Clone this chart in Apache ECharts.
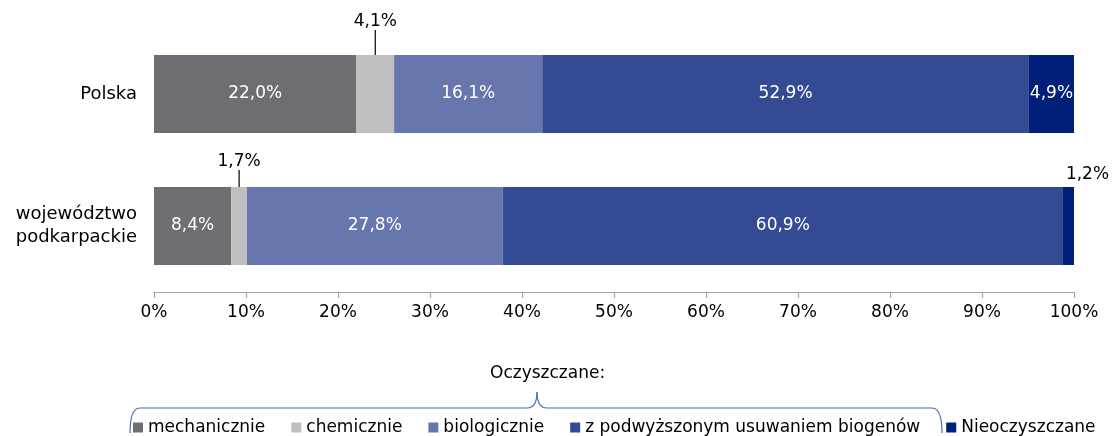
<!DOCTYPE html>
<html>
<head>
<meta charset="utf-8">
<script src="https://cdn.jsdelivr.net/npm/echarts@6/dist/echarts.min.js"></script>
<style>
  html, body { margin: 0; padding: 0; background: #fff; }
  #main { width: 1112px; height: 436px; }
</style>
</head>
<body>
<div id="main"></div>
<script>
// kategorie (od góry)
const categories = ['Polska', 'województwo\npodkarpackie'];
// udział ścieków wg sposobu oczyszczania, %
const mechanicznie = [22.0, 8.4];
const chemicznie = [4.1, 1.7];
const biologicznie = [16.1, 27.8];
const zPodwyzszonym = [52.9, 60.9];
const nieoczyszczane = [4.9, 1.2];
const seriesNames = ['mechanicznie', 'chemicznie', 'biologicznie', 'z podwyższonym usuwaniem biogenów', 'Nieoczyszczane'];
const colors = ['#6d6e71', '#bfbfbf', '#6777ad', '#344b93', '#001f78'];

const FONT = 'DejaVu Sans';
const fmt = v => v.toFixed(1).replace('.', ',') + '%';

const chart = echarts.init(document.getElementById('main'));

function makeSeries(name, data, color) {
  return {
    name: name,
    type: 'bar',
    stack: 'total',
    barWidth: 78,
    data: data,
    itemStyle: { color: color },
    label: {
      show: true,
      position: 'inside',
      color: '#fff',
      fontFamily: FONT,
      fontSize: 17,
      formatter: p => fmt(p.value)
    },
    emphasis: { disabled: true }
  };
}

const series = [
  makeSeries(seriesNames[0], mechanicznie, colors[0]),
  makeSeries(seriesNames[1], chemicznie, colors[1]),
  makeSeries(seriesNames[2], biologicznie, colors[2]),
  makeSeries(seriesNames[3], zPodwyzszonym, colors[3]),
  makeSeries(seriesNames[4], nieoczyszczane, colors[4])
];

// chemiczne – etykiety nad słupkiem z linią odniesienia
series[1].label = {
  show: true,
  position: 'top',
  distance: 0,
  color: '#000',
  fontFamily: FONT,
  fontSize: 17,
  formatter: p => fmt(p.value)
};
series[1].labelLayout = p => (p.dataIndex === 0 ? { dy: -25 } : { dy: -17 });
series[1].labelLine = { show: true, lineStyle: { color: '#000', width: 1.2 } };

// nieoczyszczane – mała wartość dla województwa poza słupkiem
series[4].data = nieoczyszczane.map((v, i) => i === 1 ? {
  value: v,
  label: { position: 'top', color: '#000', distance: 4 }
} : v);
series[4].labelLayout = p => (p.dataIndex === 1 ? { dx: 19 } : {});

const braceStyle = { fill: 'none', stroke: '#4a6fb0', lineWidth: 1.2 };

chart.setOption({
  animation: false,
  textStyle: { fontFamily: FONT },
  grid: { left: 154, right: 38, top: 28, height: 264 },
  xAxis: {
    type: 'value',
    min: 0,
    max: 100,
    interval: 10,
    axisLine: { show: true, lineStyle: { color: '#a6a6a6', width: 1.2 } },
    axisTick: { show: true, length: 6, lineStyle: { color: '#a6a6a6', width: 1.2 } },
    splitLine: { show: false },
    axisLabel: {
      color: '#000',
      fontFamily: FONT,
      fontSize: 17,
      margin: 12,
      formatter: v => v + '%'
    }
  },
  yAxis: {
    type: 'category',
    inverse: true,
    data: categories,
    axisLine: { show: false },
    axisTick: { show: false },
    axisLabel: {
      color: '#000',
      fontFamily: FONT,
      fontSize: 18,
      lineHeight: 23,
      margin: 17,
      align: 'right'
    }
  },
  legend: {
    left: 128,
    top: 414,
    padding: [5, 0, 5, 5],
    itemWidth: 10,
    itemHeight: 10,
    itemGap: 26,
    icon: 'rect',
    selectedMode: false,
    textStyle: { color: '#000', fontFamily: FONT, fontSize: 17 },
    data: seriesNames
  },
  graphic: [
    {
      type: 'text',
      left: 490,
      top: 365,
      style: { text: 'Oczyszczane:', fill: '#000', font: '17px "DejaVu Sans"' }
    },
    { type: 'bezierCurve', shape: { x1: 130, y1: 433, cpx1: 130, cpy1: 408, x2: 140, y2: 408 }, style: braceStyle },
    { type: 'line', shape: { x1: 140, y1: 408, x2: 527, y2: 408 }, style: braceStyle },
    { type: 'bezierCurve', shape: { x1: 527, y1: 408, cpx1: 537, cpy1: 408, x2: 537, y2: 392 }, style: braceStyle },
    { type: 'bezierCurve', shape: { x1: 537, y1: 392, cpx1: 537, cpy1: 408, x2: 547, y2: 408 }, style: braceStyle },
    { type: 'line', shape: { x1: 547, y1: 408, x2: 932, y2: 408 }, style: braceStyle },
    { type: 'bezierCurve', shape: { x1: 932, y1: 408, cpx1: 942, cpy1: 408, x2: 942, y2: 433 }, style: braceStyle }
  ],
  series: series
});
</script>
</body>
</html>
